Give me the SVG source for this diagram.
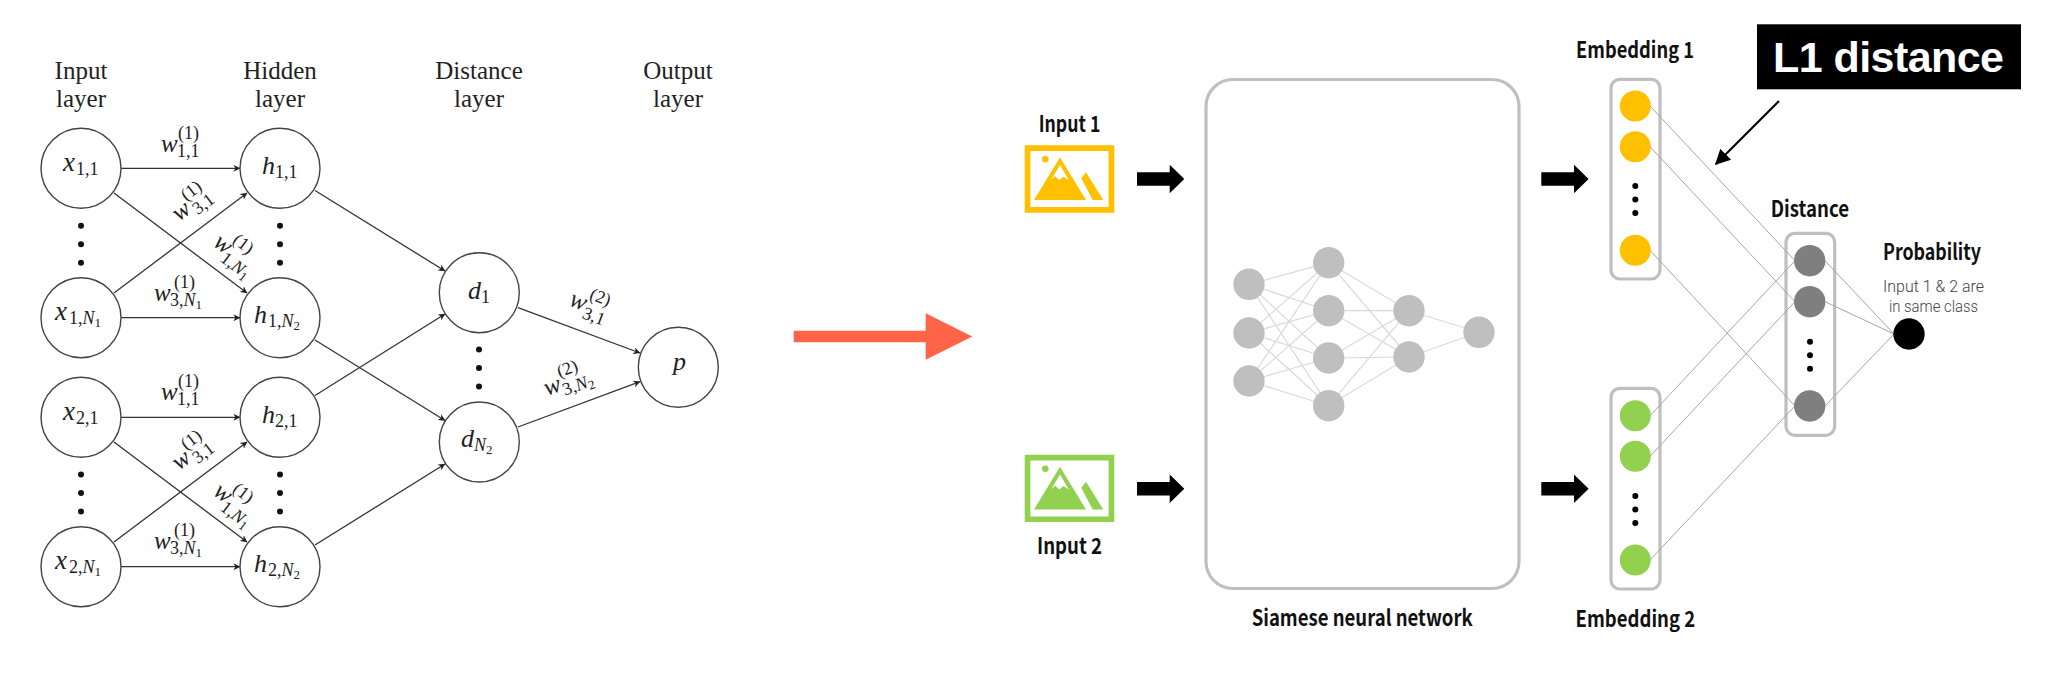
<svg xmlns="http://www.w3.org/2000/svg" width="2048" height="680" viewBox="0 0 2048 680">
<style>
text{font-family:"Liberation Serif",serif;fill:#222}
.t{font-size:25px;text-anchor:middle}
.m{font-size:25px;font-style:italic}
.mx{font-size:27px;font-style:italic}
.mh{font-size:26px;font-style:italic}
.s{font-size:18px}
.i{font-style:italic}
.ss{font-size:13px}
.cc{fill:#fff;stroke:#444;stroke-width:1.4}
.d{fill:#111}
.e{stroke:#333;stroke-width:1.3;fill:none;marker-end:url(#ah)}
.n{stroke:#dadada;stroke-width:1.2;fill:none}
.gn{fill:#bfbfbf}
.l{stroke:#a6a6a6;stroke-width:1;fill:none}
.box{fill:#fff;stroke:#bfbfbf;stroke-width:3.2}
.b{font-family:"Noto Sans CJK JP","Noto Sans",sans-serif;font-weight:700;font-size:22px;fill:#111}
.r{font-family:Roboto,"Liberation Sans",sans-serif;font-weight:300;font-size:16.4px;fill:#444}
.y{fill:#ffc000}.g{fill:#92d050}.gr{fill:#7f7f7f}.k{fill:#000}
</style>
<defs>
<marker id="ah" viewBox="0 0 10 10" refX="9.5" refY="5" markerWidth="7" markerHeight="7" orient="auto" markerUnits="userSpaceOnUse"><path d="M0 0L10 5L0 10L3 5Z" fill="#222"/></marker>
<marker id="ah2" viewBox="0 0 10 10" refX="9" refY="5" markerWidth="7" markerHeight="7" orient="auto"><path d="M0 0L10 5L0 10Z" fill="#000"/></marker>
<g id="pic">
<path d="M0 0H89.600V67.400H0ZM5.700 5.700V61.700H83.900V5.700Z" fill-rule="evenodd"/>
<circle cx="20.600" cy="14" r="3.300"/>
<path d="M35.300 12L61.300 54.700H9.300Z"/>
<path d="M35.300 19.700L26.300 34.700L30.300 30.700L34.600 34.700L38.600 31.400L44 34.700Z" fill="#fff"/>
<path d="M61.300 27L78.600 54.700H68L56.600 33Z"/>
</g>
<path id="blk2" d="M0-6.800H32.700V-14.200L47.300 0L32.700 14.200V6.800H0Z" fill="#000"/>
<g id="dots"><circle cy="0" r="3"/><circle cy="18.500" r="3"/><circle cy="37" r="3"/></g>
<g id="dots2"><circle cy="0" r="3"/><circle cy="13.500" r="3"/><circle cy="27" r="3"/></g>
<g id="w11"><text class="m">w</text><text class="s" x="17" y="-13">(1)</text><text class="s" x="16" y="5">1,1</text></g>
<g id="w3n"><text class="m">w</text><text class="s" x="20" y="-13">(1)</text><text class="s" x="16" y="5">3,<tspan class="i">N</tspan><tspan class="ss" dy="3">1</tspan></text></g>
<g id="w31"><text class="m">w</text><text class="s" x="18" y="-12">(1)</text><text class="s" x="19" y="6">3,1</text></g>
<g id="w1n"><text class="m">w</text><text class="s" x="14" y="-14">(1)</text><text class="s" x="15" y="8">1,<tspan class="i">N</tspan><tspan class="ss" dy="3">1</tspan></text></g>
</defs>
<rect width="2048" height="680" fill="#fff"/>
<g id="connectors">
<path class="e" d="M121 168.300H240"/><path class="e" d="M114 193L247 293"/><path class="e" d="M114 293L247 193"/><path class="e" d="M121 317.700H240"/>
<path class="e" d="M121 417.300H240"/><path class="e" d="M114 442L247 542"/><path class="e" d="M114 542L247 442"/><path class="e" d="M121 566.700H240"/>
<path class="e" d="M315 190.500L445 271"/><path class="e" d="M315 340L445 420.500"/><path class="e" d="M315 395.500L445 314"/><path class="e" d="M315 545L445 464"/>
<path class="e" d="M518 307.700L640 353"/><path class="e" d="M518 427L640 381.700"/>
<g id="net-lines">
<path class="n" d="M1249 284.300L1328.700 262.700M1249 284.300L1328.700 310.700M1249 284.300L1328.700 358M1249 284.300L1328.700 405.700M1249 333L1328.700 262.700M1249 333L1328.700 310.700M1249 333L1328.700 358M1249 333L1328.700 405.700M1249 381L1328.700 262.700M1249 381L1328.700 310.700M1249 381L1328.700 358M1249 381L1328.700 405.700"/>
<path class="n" d="M1328.700 262.700L1409 310.700M1328.700 262.700L1409 357M1328.700 310.700L1409 310.700M1328.700 310.700L1409 357M1328.700 358L1409 310.700M1328.700 358L1409 357M1328.700 405.700L1409 310.700M1328.700 405.700L1409 357"/>
<path class="n" d="M1409 310.700L1479 332.300M1409 357L1479 332.300"/>
</g>
</g>
<g id="red-arrow"><path d="M793.700 330.700H925.700V313.300L972.300 336.500L925.700 359.700V342.300H793.700Z" fill="#ff6449"/></g>

<g id="label-input"><text class="t" x="81" y="79">Input</text><text class="t" x="81" y="107">layer</text></g>
<g id="label-hidden"><text class="t" x="280" y="79">Hidden</text><text class="t" x="280" y="107">layer</text></g>
<g id="label-distance"><text class="t" x="479" y="79">Distance</text><text class="t" x="479" y="107">layer</text></g>
<g id="label-output"><text class="t" x="678" y="79">Output</text><text class="t" x="678" y="107">layer</text></g>

<g id="x11"><circle class="cc" cx="81" cy="168.300" r="40"/><text class="mx" x="63" y="171">x</text><text class="s" x="76" y="175">1,1</text></g>
<g id="x1n"><circle class="cc" cx="81" cy="317.700" r="40"/><text class="mx" x="55" y="320">x</text><text class="s" x="69" y="324">1,<tspan class="i">N</tspan><tspan class="ss" dy="3">1</tspan></text></g>
<g id="x21"><circle class="cc" cx="81" cy="417.300" r="40"/><text class="mx" x="63" y="420">x</text><text class="s" x="76" y="424">2,1</text></g>
<g id="x2n"><circle class="cc" cx="81" cy="566.700" r="40"/><text class="mx" x="55" y="569">x</text><text class="s" x="69" y="573">2,<tspan class="i">N</tspan><tspan class="ss" dy="3">1</tspan></text></g>
<g id="h11"><circle class="cc" cx="280" cy="168.300" r="40"/><text class="mh" x="262" y="174">h</text><text class="s" x="275" y="178">1,1</text></g>
<g id="h1n"><circle class="cc" cx="280" cy="317.700" r="40"/><text class="mh" x="254" y="323">h</text><text class="s" x="268" y="327">1,<tspan class="i">N</tspan><tspan class="ss" dy="3">2</tspan></text></g>
<g id="h21"><circle class="cc" cx="280" cy="417.300" r="40"/><text class="mh" x="262" y="423">h</text><text class="s" x="275" y="427">2,1</text></g>
<g id="h2n"><circle class="cc" cx="280" cy="566.700" r="40"/><text class="mh" x="254" y="572">h</text><text class="s" x="268" y="576">2,<tspan class="i">N</tspan><tspan class="ss" dy="3">2</tspan></text></g>
<g id="d1"><circle class="cc" cx="479.300" cy="292.700" r="40"/><text class="mh" x="468" y="299">d</text><text class="s" x="481" y="303">1</text></g>
<g id="dn"><circle class="cc" cx="479.300" cy="442" r="40"/><text class="mh" x="461" y="447">d</text><text class="s i" x="474" y="451">N<tspan class="ss" dy="3" style="font-style:normal">2</tspan></text></g>
<g id="p"><circle class="cc" cx="678.300" cy="367.300" r="40"/><text class="mh" x="673" y="370">p</text></g>

<g id="dots-left" class="d">
<use href="#dots" x="81" y="225.700"/><use href="#dots" x="280" y="225.700"/><use href="#dots" x="81" y="474.500"/><use href="#dots" x="280" y="474.500"/><use href="#dots" x="479" y="349.500"/>
</g>
<g id="edge-labels">
<use href="#w11" transform="translate(161,152)"/>
<use href="#w3n" transform="translate(154,301)"/>
<use href="#w31" transform="translate(179,222) rotate(-37)"/>
<use href="#w1n" transform="translate(212,245) rotate(37)"/>
<use href="#w11" transform="translate(161,400)"/>
<use href="#w3n" transform="translate(154,549)"/>
<use href="#w31" transform="translate(179,471) rotate(-37)"/>
<use href="#w1n" transform="translate(212,494) rotate(37)"/>
<g transform="translate(568,305) rotate(21)"><text class="m">w</text><text class="s" x="17" y="-13">(2)</text><text class="s" x="17" y="7">3,1</text></g>
<g transform="translate(547,396) rotate(-20)"><text class="m">w</text><text class="s" x="18" y="-13">(2)</text><text class="s" x="17" y="6">3,<tspan class="i">N</tspan><tspan class="ss" dy="3">2</tspan></text></g>
</g>

<g id="input1"><text class="b" x="1038.700" y="131.700" textLength="61.600" lengthAdjust="spacingAndGlyphs">Input 1</text><use href="#pic" class="y" x="1024.700" y="145.300"/></g>
<g id="input2"><text class="b" x="1037" y="554.300" textLength="65" lengthAdjust="spacingAndGlyphs">Input 2</text><use href="#pic" class="g" x="1024.700" y="454.700"/></g>
<use href="#blk2" x="1137" y="179"/><use href="#blk2" x="1137" y="488.700"/>
<use href="#blk2" x="1541.300" y="179"/><use href="#blk2" x="1541.300" y="488.700"/>

<g id="siamese">
<rect class="box" x="1206" y="79.500" width="313" height="509" rx="27" style="fill:none"/>
<text class="b" x="1251.700" y="626" textLength="221" lengthAdjust="spacingAndGlyphs">Siamese neural network</text>
<g class="gn">
<circle cx="1249" cy="284.300" r="15.700"/><circle cx="1249" cy="333" r="15.700"/><circle cx="1249" cy="381" r="15.700"/>
<circle cx="1328.700" cy="262.700" r="15.700"/><circle cx="1328.700" cy="310.700" r="15.700"/><circle cx="1328.700" cy="358" r="15.700"/><circle cx="1328.700" cy="405.700" r="15.700"/>
<circle cx="1409" cy="310.700" r="15.700"/><circle cx="1409" cy="357" r="15.700"/>
<circle cx="1479" cy="332.300" r="15.700"/>
</g>
</g>

<g id="embedding1">
<text class="b" x="1576" y="58" textLength="118" lengthAdjust="spacingAndGlyphs">Embedding 1</text>
<rect class="box" x="1611" y="79.300" width="49" height="199.700" rx="9"/>
<g class="y"><circle cx="1635.300" cy="106" r="15.500"/><circle cx="1635.300" cy="146.700" r="15.500"/><circle cx="1635.300" cy="250.300" r="15.500"/></g>
<use href="#dots2" class="k" x="1635.300" y="186"/>
</g>
<g id="embedding2">
<text class="b" x="1575.600" y="626.500" textLength="119.500" lengthAdjust="spacingAndGlyphs">Embedding 2</text>
<rect class="box" x="1611" y="388.300" width="49" height="200.700" rx="9"/>
<g class="g"><circle cx="1635.300" cy="415.700" r="15.500"/><circle cx="1635.300" cy="456.300" r="15.500"/><circle cx="1635.300" cy="560" r="15.500"/></g>
<use href="#dots2" class="k" x="1635.300" y="496"/>
</g>
<g id="distance">
<text class="b" x="1770.700" y="216.500" textLength="78.300" lengthAdjust="spacingAndGlyphs">Distance</text>
<rect class="box" x="1786" y="233.300" width="48.700" height="202" rx="9"/>
</g>
<g id="siamese-connectors">
<path class="l" d="M1650 106L1795 260.700M1650 146.700L1795 301.700M1650 250.300L1795 406M1650 415.700L1795 260.700M1650 456.300L1795 301.700M1650 560L1795 406M1825 260.700L1894 334M1825 301.700L1894 334M1825 406L1894 334"/>
</g>
<g id="distance-nodes">
<g class="gr"><circle cx="1809.700" cy="260.700" r="15.700"/><circle cx="1809.700" cy="301.700" r="15.700"/><circle cx="1809.700" cy="406" r="15.700"/></g>
<use href="#dots2" class="k" x="1810" y="341.700"/>
</g>
<g id="probability">
<circle class="k" cx="1909" cy="334" r="15.700"/>
<text class="b" x="1883" y="260" textLength="98" lengthAdjust="spacingAndGlyphs">Probability</text>
<text class="r" x="1883" y="292" textLength="101" lengthAdjust="spacingAndGlyphs">Input 1 &amp; 2 are</text>
<text class="r" x="1889" y="311.500" textLength="89" lengthAdjust="spacingAndGlyphs">in same class</text>
</g>
<g id="l1">
<rect class="k" x="1757" y="24.300" width="264" height="65"/>
<text x="1773" y="72.300" textLength="231" style="font-family:'Liberation Sans',sans-serif;font-weight:700;font-size:43px;fill:#fff">L1 distance</text>
<path d="M1779 101L1716 164" stroke="#000" stroke-width="2.200" fill="none" marker-end="url(#ah2)"/>
</g>
</svg>
